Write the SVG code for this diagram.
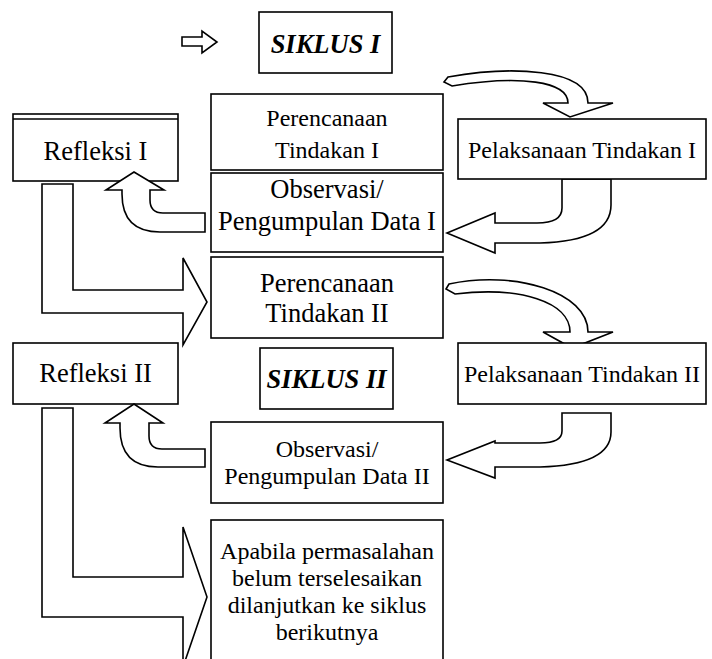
<svg xmlns="http://www.w3.org/2000/svg" width="712" height="659" viewBox="0 0 712 659">
<style>
.box{fill:#fff;stroke:#000;stroke-width:1.6}
.arr{fill:#fff;stroke:#000;stroke-width:1.6;stroke-linejoin:miter}
text{font-family:"Liberation Serif","Times New Roman",serif;fill:#000;text-anchor:middle}
.t{font-size:24px}
.tb{font-size:26.5px}
.s{font-size:26.5px;font-weight:bold;font-style:italic}
</style>
<rect width="712" height="659" fill="#fff"/>
<g id="connectors">
<polygon class="arr" points="182,37 202,37 202,31 217,42 202,53 202,46 182,46"/>
<path class="arr" d="M42,184 L73,184 L73,290 L183,290 L183,258 L207,302 L183,345 L183,313 L42,313 Z"/>
<path class="arr" d="M42,408 L73,408 L73,577 L183,577 L183,527 L207,597 L183,667 L183,617 L42,617 Z"/>
<path class="arr" d="M448,77 C510,66 588,68 588,103 L613,103 L570,117 L543,103 L568,103 C568,81 520,75 452,86 L444,82 Z"/>
<path class="arr" d="M449,284 C515,270 588,292 588,332 L613,332 L572,348 L543,332 L570,332 C570,302 520,286 455,294 L446,289 Z"/>
<path class="arr" d="M562,179 L562,208 Q562,223 537,223 L495,223 L495,213 L447,233 L495,253 L495,243 L540,243 Q611,241 611,205 L611,179 Z"/>
<path class="arr" d="M562,413 L562,431 Q562,443 540,443 L495,443 L495,441 L447,460 L495,478 L495,467 L540,467 Q611,465 611,432 L611,413 Z"/>
</g>
<g id="siklus1"><rect class="box" x="259" y="12" width="133" height="61"/><text class="s" x="325.5" y="53">SIKLUS I</text></g>
<g id="refleksi1"><rect class="box" x="13" y="114" width="165" height="67"/><line x1="13" y1="119" x2="178" y2="119" stroke="#000" stroke-width="1.6"/><text class="tb" x="95.5" y="160">Refleksi I</text></g>
<g id="perencanaan1"><rect class="box" x="211" y="94" width="232" height="76"/><text class="t" x="327" y="126">Perencanaan</text><text class="t" x="327" y="158">Tindakan I</text></g>
<g id="pelaksanaan1"><rect class="box" x="458" y="119" width="248" height="60"/><text class="t" x="582" y="158">Pelaksanaan Tindakan I</text></g>
<g id="observasi1"><rect class="box" x="211" y="173" width="232" height="79"/><text class="tb" x="327" y="198">Observasi/</text><text class="tb" x="327" y="230">Pengumpulan Data I</text></g>
<g id="perencanaan2"><rect class="box" x="211" y="257" width="232" height="81"/><text class="tb" x="327" y="292">Perencanaan</text><text class="tb" x="327" y="322">Tindakan II</text></g>
<g id="refleksi2"><rect class="box" x="13" y="343" width="165" height="61"/><text class="tb" x="95.5" y="382">Refleksi II</text></g>
<g id="siklus2"><rect class="box" x="260" y="348" width="133" height="61"/><text class="s" x="326.5" y="388">SIKLUS II</text></g>
<g id="pelaksanaan2"><rect class="box" x="458" y="343" width="248" height="61"/><text class="t" x="582" y="382">Pelaksanaan Tindakan II</text></g>
<g id="observasi2"><rect class="box" x="211" y="422" width="232" height="81"/><text class="t" x="327" y="457">Observasi/</text><text class="t" x="327" y="484">Pengumpulan Data II</text></g>
<g id="lanjut"><rect class="box" x="211" y="520" width="232" height="160"/><text class="t" x="327" y="559">Apabila permasalahan</text><text class="t" x="327" y="586">belum terselesaikan</text><text class="t" x="327" y="613">dilanjutkan ke siklus</text><text class="t" x="327" y="640">berikutnya</text></g>
<g id="connectors-up">
<path class="arr" d="M134,172 L164,190 L150,190 L150,200 Q150,213 163,213 L205,213 L205,232 L160,232 Q122,232 122,194 L122,190 L106,190 Z"/>
<path class="arr" d="M134,404 L163,423 L149,423 L149,436 Q149,449 162,449 L205,449 L205,467 L158,467 Q120,467 120,428 L120,423 L105,423 Z"/>
</g>
</svg>
